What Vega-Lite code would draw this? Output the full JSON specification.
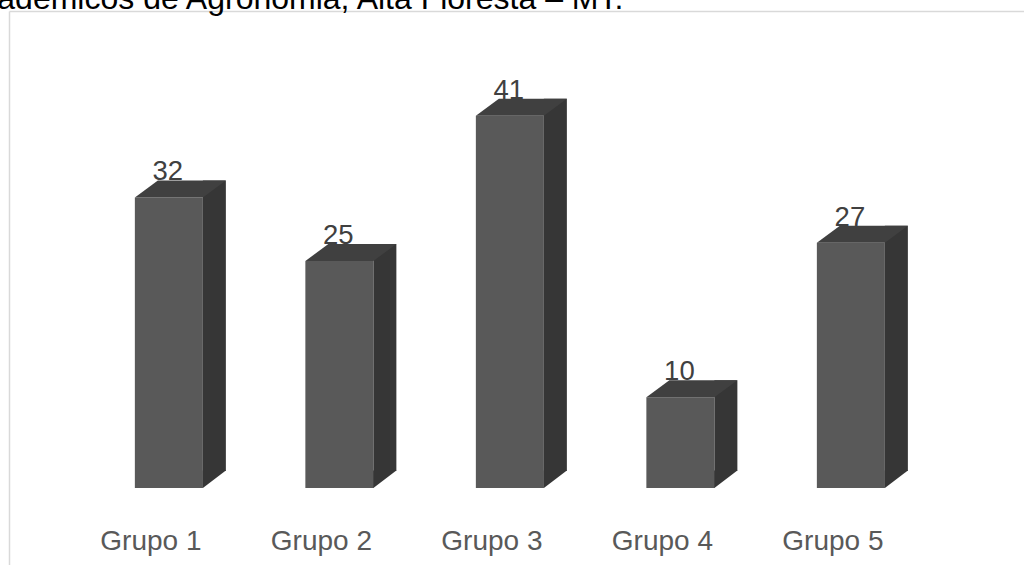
{
  "$schema": "https://vega.github.io/schema/vega-lite/v6.json",
  "width": 1015,
  "height": 554,
  "autosize": {"type": "none"},
  "padding": {"left": 9, "top": 11, "right": 0, "bottom": 0},
  "background": "white",
  "config": {"view": {"stroke": null}, "font": "Liberation Sans"},
  "title": {
    "text": "acadêmicos de Agronomia, Alta Floresta – MT.",
    "anchor": "start",
    "frame": "group",
    "orient": "top",
    "fontSize": 32,
    "fontWeight": "normal",
    "color": "#000000",
    "font": "Liberation Sans",
    "baseline": "alphabetic",
    "offset": 4,
    "dx": -45.5,
    "dy": 34
  },
  "data": {
    "values": [
      {"grupo": "Grupo 1", "valor": 32},
      {"grupo": "Grupo 2", "valor": 25},
      {"grupo": "Grupo 3", "valor": 41},
      {"grupo": "Grupo 4", "valor": 10},
      {"grupo": "Grupo 5", "valor": 27}
    ]
  },
  "encoding": {
    "x": {
      "field": "grupo",
      "type": "nominal",
      "sort": null,
      "scale": {"paddingInner": 0.601, "paddingOuter": 0.777, "align": 0.475},
      "axis": {
        "orient": "bottom",
        "domain": false,
        "ticks": false,
        "grid": false,
        "title": null,
        "labelFontSize": 28,
        "labelColor": "#595959",
        "labelFont": "Liberation Sans",
        "labelPadding": 0,
        "offset": -16,
        "labelBaseline": "alphabetic",
        "labelOffset": -18,
        "labelAngle": 0
      }
    },
    "y": {
      "field": "valor",
      "type": "quantitative",
      "scale": {"domain": [-8.48, 52.53], "nice": false, "zero": false},
      "axis": {
        "orient": "left",
        "domain": true,
        "domainColor": "#d9d9d9",
        "domainWidth": 1.5,
        "ticks": false,
        "labels": false,
        "title": null,
        "grid": true,
        "gridColor": "#d9d9d9",
        "gridWidth": 1.5,
        "values": [52.53]
      }
    }
  },
  "layer": [
    {
      "mark": {"type": "bar", "width": 23, "xOffset": 45.5, "yOffset": -17, "y2Offset": -17, "color": "#363636"},
      "encoding": {"y2": {"datum": 0}}
    },
    {
      "mark": {"type": "point", "shape": "M 33.5 -17.5 L 57 -17.5 L 34 0 L 33.5 0 Z", "size": 4, "filled": true, "color": "#363636", "strokeWidth": 0, "opacity": 1},
      "encoding": {"y": {"datum": 0}}
    },
    {
      "mark": {"type": "bar", "color": "#595959"},
      "encoding": {"y2": {"datum": 0}}
    },
    {
      "mark": {"type": "point", "shape": "M -34 0 L 34 0 L 57 -17 L -11 -17 Z", "size": 4, "filled": true, "color": "#404040", "strokeWidth": 0, "opacity": 1}
    },
    {
      "mark": {"type": "text", "dy": -17, "dx": -1, "baseline": "alphabetic", "fontSize": 27.5, "color": "#404040", "font": "Liberation Sans"},
      "encoding": {"text": {"field": "valor", "type": "quantitative"}}
    }
  ]
}
